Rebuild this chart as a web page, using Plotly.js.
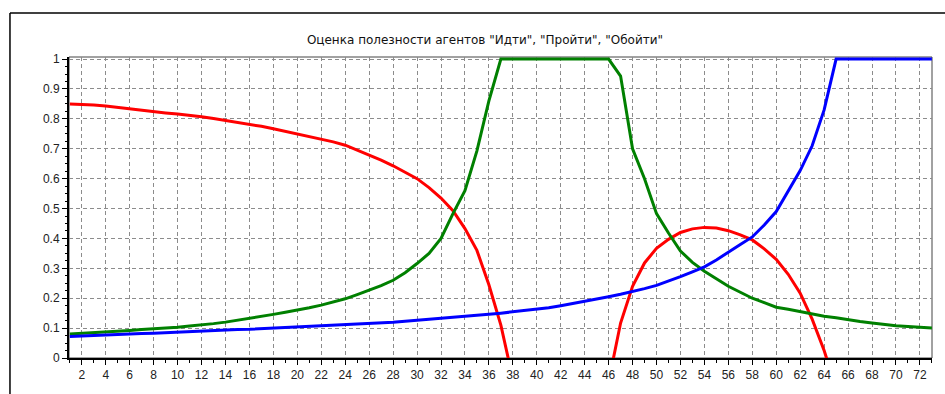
<!DOCTYPE html>
<html>
<head>
<meta charset="utf-8">
<script src="https://cdn.plot.ly/plotly-3.0.1.min.js"></script>
<style>
html,body{margin:0;padding:0;background:#fff;}
#chart{width:945px;height:394px;}
</style>
</head>
<body>
<div id="chart"></div>
<script>
const titleText = 'Оценка полезности агентов "Идти", "Пройти", "Обойти"';

const xValues = [];
for (let i = 1; i <= 73; i++) xValues.push(i);

const redSeries = [
  0.850, 0.849, 0.846, 0.843, 0.838, 0.833, 0.828, 0.824, 0.820, 0.816,
  0.812, 0.807, 0.801, 0.795, 0.789, 0.783, 0.775, 0.767, 0.758, 0.750,
  0.742, 0.733, 0.723, 0.712, 0.696, 0.678, 0.662, 0.643, 0.622, 0.600,
  0.570, 0.535, 0.493, 0.433, 0.360, 0.245, 0.110, -0.070, null, null,
  null, null, null, null, null, -0.080, 0.117, 0.240, 0.318, 0.367,
  0.397, 0.420, 0.432, 0.437, 0.435, 0.426, 0.412, 0.395, 0.365, 0.330,
  0.280, 0.217, 0.130, 0.025, -0.100, null, null, null, null, null,
  null, null, null
];

const greenSeries = [
  0.080, 0.082, 0.085, 0.087, 0.090, 0.092, 0.095, 0.097, 0.100, 0.103,
  0.107, 0.110, 0.115, 0.120, 0.126, 0.133, 0.140, 0.146, 0.153, 0.160,
  0.168, 0.177, 0.187, 0.198, 0.212, 0.226, 0.242, 0.260, 0.285, 0.316,
  0.350, 0.400, 0.483, 0.560, 0.693, 0.860, 1.000, 1.000, 1.000, 1.000,
  1.000, 1.000, 1.000, 1.000, 1.000, 1.000, 0.943, 0.700, 0.600, 0.483,
  0.418, 0.358, 0.320, 0.290, 0.265, 0.240, 0.220, 0.200, 0.185, 0.170,
  0.163, 0.155, 0.148, 0.140, 0.135, 0.128, 0.122, 0.117, 0.112, 0.108,
  0.105, 0.102, 0.100
];

const blueSeries = [
  0.072, 0.074, 0.076, 0.077, 0.079, 0.080, 0.082, 0.083, 0.085, 0.087,
  0.088, 0.090, 0.092, 0.093, 0.095, 0.096, 0.098, 0.100, 0.102, 0.103,
  0.105, 0.107, 0.109, 0.110, 0.112, 0.114, 0.117, 0.120, 0.123, 0.126,
  0.129, 0.132, 0.136, 0.139, 0.143, 0.146, 0.150, 0.154, 0.158, 0.163,
  0.168, 0.175, 0.182, 0.190, 0.197, 0.205, 0.213, 0.222, 0.232, 0.243,
  0.257, 0.272, 0.288, 0.305, 0.328, 0.355, 0.380, 0.405, 0.445, 0.490,
  0.560, 0.627, 0.710, 0.830, 1.000, 1.000, 1.000, 1.000, 1.000, 1.000,
  1.000, 1.000, 1.000
];

const seriesNames = ['Идти', 'Пройти', 'Обойти'];
const seriesColors = ['#ff0000', '#008000', '#0000ff'];

const traces = [redSeries, greenSeries, blueSeries].map((ys, i) => ({
  x: xValues,
  y: ys,
  type: 'scatter',
  mode: 'lines',
  name: seriesNames[i],
  line: {color: seriesColors[i], width: 3},
  connectgaps: false,
  hoverinfo: 'x+y'
}));

const gridDash = '4px,3px';
const tickFont = {family: 'Liberation Sans, Arial, sans-serif', size: 12, color: '#222'};

const layout = {
  width: 945,
  height: 394,
  margin: {l: 69, r: 13, t: 57, b: 36, pad: 0},
  paper_bgcolor: '#ffffff',
  plot_bgcolor: '#ffffff',
  showlegend: false,
  title: {
    text: titleText,
    font: {family: 'DejaVu Sans, sans-serif', size: 12, color: '#111'},
    xref: 'paper', x: 0.482, xanchor: 'center',
    yref: 'container', y: 0.90, yanchor: 'middle'
  },
  xaxis: {
    range: [0.93, 73.01],
    tick0: 2, dtick: 2,
    ticks: 'outside', ticklen: 5, tickwidth: 1, tickcolor: '#000',
    showgrid: true, gridcolor: '#8c8c8c', gridwidth: 1, griddash: gridDash,
    showline: true, linecolor: '#000', linewidth: 2,
    zeroline: false,
    tickfont: tickFont,
    minor: {tick0: 1, dtick: 1, ticks: 'outside', ticklen: 3, tickwidth: 1, tickcolor: '#000', showgrid: false}
  },
  yaxis: {
    range: [0, 1.007],
    tick0: 0, dtick: 0.1,
    ticks: 'outside', ticklen: 5, tickwidth: 1, tickcolor: '#000',
    showgrid: true, gridcolor: '#8c8c8c', gridwidth: 1, griddash: gridDash,
    showline: true, linecolor: '#000', linewidth: 2,
    zeroline: false,
    tickfont: tickFont,
    minor: {tick0: 0, dtick: 0.025, ticks: 'outside', ticklen: 2, tickwidth: 1, tickcolor: '#000', showgrid: false}
  },
  shapes: [
    {type: 'rect', xref: 'paper', yref: 'paper', x0: 0, x1: 1, y0: 0, y1: 1,
     line: {color: '#444', width: 1}, layer: 'below'},
    {type: 'line', xref: 'paper', yref: 'paper', x0: -0.0684, x1: 1.2, y0: 1.146, y1: 1.146,
     line: {color: '#000', width: 1.5}},
    {type: 'line', xref: 'paper', yref: 'paper', x0: -0.0684, x1: -0.0684, y0: -0.3, y1: 1.146,
     line: {color: '#000', width: 1.5}}
  ]
};

Plotly.newPlot('chart', traces, layout, {displayModeBar: false, staticPlot: true});
</script>
</body>
</html>
